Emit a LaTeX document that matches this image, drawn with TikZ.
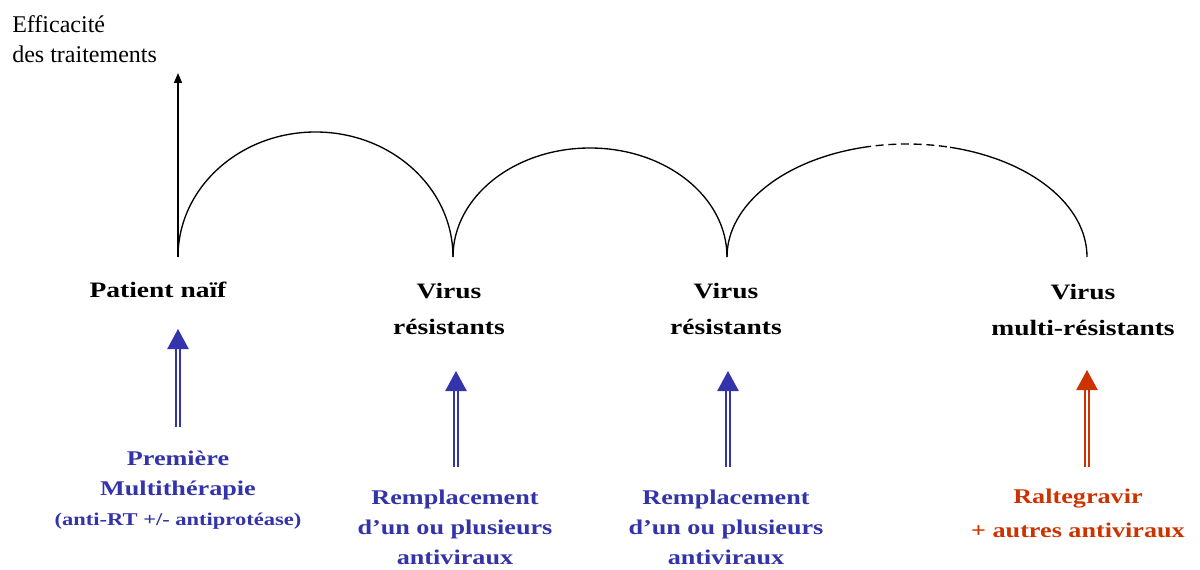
\documentclass[tikz,border=0pt]{standalone}
\usepackage{fontspec}
\setmainfont{Liberation Serif}
\newfontfamily\widefont[FakeStretch=1.25]{Liberation Serif}
\usetikzlibrary{arrows.meta}
\definecolor{dblue}{RGB}{51,51,170}
\definecolor{dred}{RGB}{204,51,0}
\begin{document}
\begin{tikzpicture}[x=0.75pt,y=0.75pt,
  curve/.style={draw=black, line width=1pt},
  axisline/.style={draw=black, line width=0.9pt, -{Triangle[length=7.5pt,width=6pt]}},
  dbl/.style={double, double distance=2.2pt, line width=0.9pt, -{Triangle[length=15pt,width=16pt]}},
  hdr/.style={font=\widefont\bfseries\fontsize{16.5}{27}\selectfont, align=center, inner sep=0pt, anchor=base},
  treat/.style={font=\widefont\bfseries\fontsize{15.7}{22.5}\selectfont, align=center, inner sep=0pt, anchor=base},
  ylabel/.style={font=\fontsize{18}{22.5}\selectfont, align=left, inner sep=0pt, anchor=base west}]
\useasboundingbox (0,0) rectangle (1200,569);
\fill[white] (0,0) rectangle (1200,569);
% axis label (anchor base = last line)
\node[ylabel] (ylab) at (12,506) {Efficacité\\des traitements};
% arc end points
\coordinate (c0) at (178,312);
\coordinate (c1) at (453,312);
\coordinate (c2) at (727,312);
\coordinate (c3) at (1087,312);
\coordinate (top) at (178,496);
\draw[axisline] (c0) -- (top);
\draw[curve] (c0) arc[start angle=180, end angle=0, x radius=137.5, y radius=125];
\draw[curve] (c1) arc[start angle=180, end angle=0, x radius=137, y radius=109];
\draw[curve] (c2) arc[start angle=180, end angle=104.1, x radius=180, y radius=113] coordinate (d1);
\draw[curve, dash pattern=on 6pt off 3.5pt] (d1) arc[start angle=104.1, end angle=76.2, x radius=180, y radius=113] coordinate (d2);
\draw[curve] (d2) arc[start angle=76.2, end angle=0, x radius=180, y radius=113];
% stage labels
\node[hdr] (h0) at (158,272) {Patient naïf};
\node[hdr] (h1) at (449,235) {Virus\\résistants};
\node[hdr] (h2) at (726,235) {Virus\\résistants};
\node[hdr] (h3) at (1083,234) {Virus\\multi-résistants};
% treatments
\node[treat, text=dblue] (t0) at (178,44) {Première\\Multithérapie\\{\fontsize{13.5}{17}\selectfont (anti-RT +/- antiprotéase)}};
\node[treat, text=dblue] (t1) at (455,4.5) {Remplacement\\d’un ou plusieurs\\antiviraux};
\node[treat, text=dblue] (t2) at (726,4.5) {Remplacement\\d’un ou plusieurs\\antiviraux};
\node[treat, text=dred, font=\widefont\bfseries\fontsize{15.7}{25}\selectfont] (t3) at (1078,32) {Raltegravir\\+ autres antiviraux};
% arrows
\coordinate (a0s) at (178,142); \coordinate (a0e) at (178,240);
\coordinate (a1s) at (456,102); \coordinate (a1e) at (456,198);
\coordinate (a2s) at (728,102); \coordinate (a2e) at (728,198);
\coordinate (a3s) at (1087,102); \coordinate (a3e) at (1087,199);
\draw[dbl, draw=dblue] (a0s) -- (a0e);
\draw[dbl, draw=dblue] (a1s) -- (a1e);
\draw[dbl, draw=dblue] (a2s) -- (a2e);
\draw[dbl, draw=dred] (a3s) -- (a3e);
\end{tikzpicture}
\end{document}
